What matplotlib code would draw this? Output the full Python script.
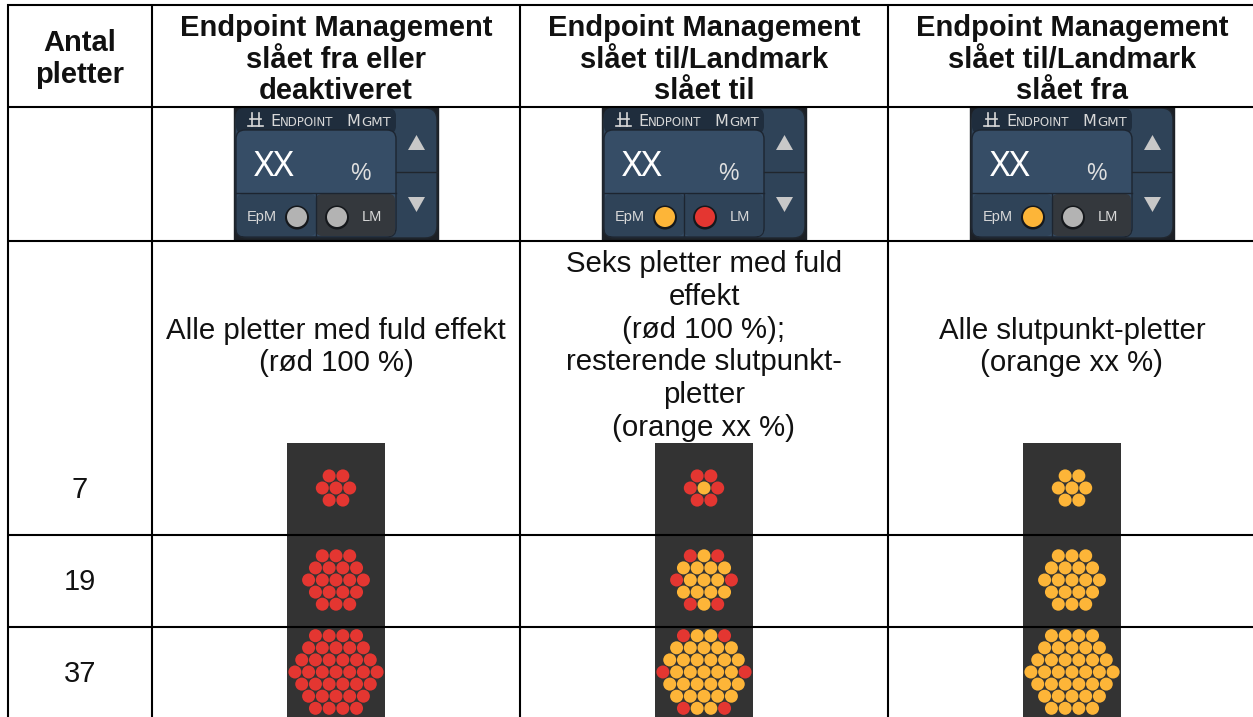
import matplotlib
matplotlib.use("Agg")
import matplotlib.pyplot as plt
from matplotlib.patches import Circle, FancyBboxPatch, Polygon, Rectangle

plt.rcParams['font.family'] = ['Liberation Sans', 'DejaVu Sans']

RED = '#e43631'
ORANGE = '#fdb538'
GRAY = '#b3b3b3'

spot_counts = ['7', '19', '37']
col_headers = ['Endpoint Management\nslået fra eller\ndeaktiveret',
               'Endpoint Management\nslået til/Landmark\nslået til',
               'Endpoint Management\nslået til/Landmark\nslået fra']
col_texts = ['Alle pletter med fuld effekt\n(rød 100 %)',
             'Seks pletter med fuld\neffekt\n(rød 100 %);\nresterende slutpunkt-\npletter\n(orange xx %)',
             'Alle slutpunkt-pletter\n(orange xx %)']
epm_colors = [GRAY, ORANGE, ORANGE]
lm_colors = [GRAY, RED, GRAY]
row_sizes = [[2, 3, 2], [3, 4, 5, 4, 3], [4, 5, 6, 7, 6, 5, 4]]

# which spots are red in the middle column, (row, index in row)
red_spots = [
    [(0, 0), (0, 1), (1, 0), (1, 2), (2, 0), (2, 1)],
    [(0, 0), (0, 2), (2, 0), (2, 4), (4, 0), (4, 2)],
    [(0, 0), (0, 3), (3, 0), (3, 6), (6, 0), (6, 3)],
]

x_lines = [7.5, 152, 520, 888]
y_lines = [5, 106.5, 240.5, 535, 626.5]
col_centers = [336, 704, 1072]
row_centers = [488, 580, 672]

fig = plt.figure(figsize=(12.53, 7.17), dpi=100)
ax = fig.add_axes([0, 0, 1, 1])
ax.set_xlim(0, 1253)
ax.set_ylim(717, 0)
ax.axis('off')


def draw_panel(cx, epm, lm):
    x0 = cx - 102
    txt = '#d8d8d8'
    ax.add_patch(Rectangle((x0, 107), 204, 133, color='#1c2026', zorder=1))
    ax.add_patch(FancyBboxPatch((x0 + 1, 108), 202, 130, boxstyle='round,pad=0,rounding_size=12',
                                fc='#2f4358', ec='#20262d', lw=1, zorder=2))
    ax.add_patch(FancyBboxPatch((x0 + 2, 108), 160, 26, boxstyle='round,pad=0,rounding_size=8',
                                fc='#1f2d3d', ec='none', zorder=3))
    ax.add_patch(FancyBboxPatch((x0 + 2, 130), 160, 107, boxstyle='round,pad=0,rounding_size=9',
                                fc='#364d66', ec='#1d2530', lw=1, zorder=3))
    ax.plot([x0 + 2, x0 + 162], [193, 193], color='#1d2530', lw=1, zorder=5)
    ax.add_patch(FancyBboxPatch((x0 + 3, 194), 79, 42, boxstyle='round,pad=0,rounding_size=6',
                                fc='#2f4358', ec='none', zorder=4))
    ax.add_patch(FancyBboxPatch((x0 + 82, 194), 79, 42, boxstyle='round,pad=0,rounding_size=6',
                                fc='#34383d' if lm == GRAY else '#2f4358', ec='none', zorder=4))
    ax.plot([x0 + 82, x0 + 82], [194, 236], color='#1d2530', lw=1, zorder=5)
    ax.plot([x0 + 162, x0 + 203], [172, 172], color='#20262d', lw=1, zorder=3)
    # small antenna icon in the title
    for xa in (x0 + 18, x0 + 25):
        ax.plot([xa, xa], [113, 126], color=txt, lw=1.2, zorder=5)
    ax.plot([x0 + 14, x0 + 29], [126, 126], color=txt, lw=1.2, zorder=5)
    ax.plot([x0 + 16, x0 + 27], [119, 119], color=txt, lw=1.2, zorder=5)
    ax.text(x0 + 36, 121, 'E', color=txt, fontsize=11.5, va='center', family='DejaVu Sans', zorder=5)
    ax.text(x0 + 46, 122, 'NDPOINT', color=txt, fontsize=8.5, va='center', family='DejaVu Sans', zorder=5)
    ax.text(x0 + 112, 121, 'M', color=txt, fontsize=11.5, va='center', family='DejaVu Sans', zorder=5)
    ax.text(x0 + 127, 122, 'GMT', color=txt, fontsize=9.5, va='center', family='DejaVu Sans', zorder=5)
    ax.text(x0 + 40.5, 167, 'XX', color='white', fontsize=25, ha='center', va='center',
            family='Noto Sans', zorder=5)
    ax.text(x0 + 126, 174, '%', color='#e0e0e0', fontsize=16.5, ha='center', va='center', zorder=5)
    ax.text(x0 + 28, 217, 'EpM', color=txt, fontsize=10.5, ha='center', va='center', zorder=5)
    ax.text(x0 + 137.5, 217, 'LM', color=txt, fontsize=10.5, ha='center', va='center', zorder=5)
    for px, c in [(x0 + 63, epm), (x0 + 103, lm)]:
        ax.add_patch(Circle((px, 217.5), 12, fc='#15181c', ec='none', zorder=5))
        ax.add_patch(Circle((px, 217), 10, fc=c, ec='none', zorder=6))
    ax.add_patch(Polygon([(x0 + 174, 150), (x0 + 191, 150), (x0 + 182.5, 135)], fc='#c8c8c8', ec='none', zorder=5))
    ax.add_patch(Polygon([(x0 + 174, 197), (x0 + 191, 197), (x0 + 182.5, 212)], fc='#c8c8c8', ec='none', zorder=5))


def draw_spots(cx, cy, sizes, colour, reds=()):
    step = 13.7
    half = (len(sizes) - 1) / 2
    for r, n in enumerate(sizes):
        y = cy + (r - half) * 12.1
        for i in range(n):
            x = cx + (i - (n - 1) / 2) * step
            c = RED if (r, i) in reds else colour
            ax.add_patch(Circle((x, y), 6.5, fc=c, ec='none', zorder=3))


# dark strips behind the spots
for cx in col_centers:
    ax.add_patch(Rectangle((cx - 49, 443), 98, 274, fc='#333333', ec='none', zorder=1))

for cx, epm, lm in zip(col_centers, epm_colors, lm_colors):
    draw_panel(cx, epm, lm)

for i, cy in enumerate(row_centers):
    ax.text(80, cy + 1.5, spot_counts[i], fontsize=21, ha='center', va='center', color='#111111')
    draw_spots(col_centers[0], cy, row_sizes[i], RED)
    draw_spots(col_centers[1], cy, row_sizes[i], ORANGE, red_spots[i])
    draw_spots(col_centers[2], cy, row_sizes[i], ORANGE)

# grid, no right border in the picture
for x in x_lines:
    ax.plot([x, x], [4, 717], color='black', lw=1.5, zorder=2, solid_capstyle='butt')
for y in y_lines:
    ax.plot([6.5, 1253], [y, y], color='black', lw=1.5, zorder=8 if y < 300 else 2,
            solid_capstyle='butt')

ax.text(80, 59, 'Antal\npletter', fontsize=21, fontweight='bold', ha='center', va='center',
        linespacing=1.18, color='#111111')
for cx, h in zip(col_centers, col_headers):
    ax.text(cx, 59.5, h, fontsize=21, fontweight='bold', ha='center', va='center', linespacing=1.18,
            color='#111111')
ax.text(col_centers[0], 347, col_texts[0], fontsize=21.2, ha='center', va='center', linespacing=1.215,
        zorder=5, color='#111111')
ax.text(col_centers[1], 346, col_texts[1], fontsize=21.2, ha='center', va='center', linespacing=1.215,
        zorder=5, color='#111111')
ax.text(col_centers[2], 347, col_texts[2], fontsize=21.2, ha='center', va='center', linespacing=1.215,
        zorder=5, color='#111111')

fig.savefig('out.png', dpi=100)
